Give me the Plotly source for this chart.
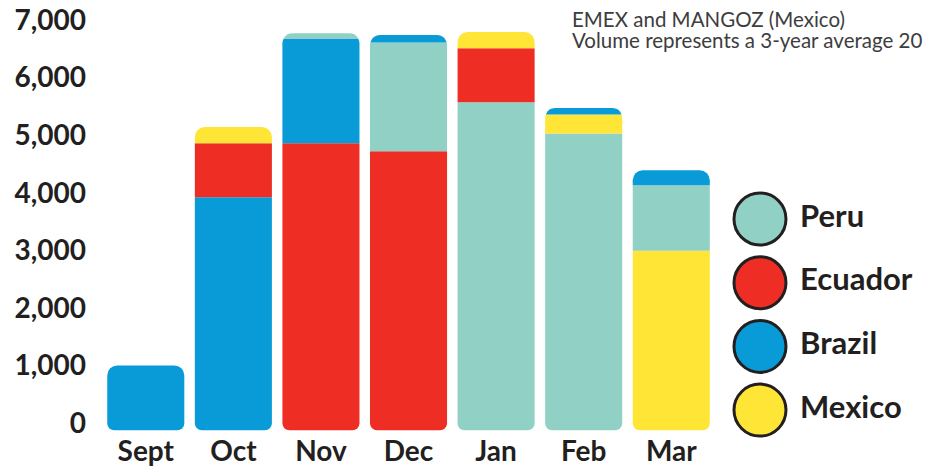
import plotly.graph_objects as go

months = ["Sept", "Oct", "Nov", "Dec", "Jan", "Feb", "Mar"]
countries = ["Peru", "Ecuador", "Brazil", "Mexico"]
peru = [0, 0, 90, 1890, 5570, 5030, 1140]
ecuador = [0, 940, 4860, 4720, 940, 0, 0]
brazil = [1000, 3920, 1820, 130, 0, 110, 260]
mexico = [0, 280, 0, 0, 280, 330, 2990]
y_ticks = [0, 1000, 2000, 3000, 4000, 5000, 6000, 7000]
note_lines = ["EMEX and MANGOZ (Mexico)", "Volume represents a 3-year average 20"]

colors = {"Peru": "#91d1c5", "Ecuador": "#ee2e24", "Brazil": "#089bd7", "Mexico": "#ffe535"}
TEXT = "#231f20"
FONT = "Lato"

series = {"Peru": peru, "Ecuador": ecuador, "Brazil": brazil, "Mexico": mexico}

# stacking: largest volume at bottom for each month
n_layers = 3
layer_vals = [[None] * len(months) for _ in range(n_layers)]
layer_cols = [["#ffffff"] * len(months) for _ in range(n_layers)]
layer_names = [[""] * len(months) for _ in range(n_layers)]
for i in range(len(months)):
    items = sorted([(series[c][i], c) for c in countries if series[c][i] > 0], reverse=True)
    for k, (v, c) in enumerate(items):
        layer_vals[k][i] = v
        layer_cols[k][i] = colors[c]
        layer_names[k][i] = c

fig = go.Figure()

# small rounded foot under each bar (style only)
FOOT = -125
fig.add_trace(go.Bar(
    x=months, y=[FOOT] * len(months), marker=dict(color=layer_cols[0], line=dict(width=0)),
    hoverinfo="skip", showlegend=False, xaxis="x", yaxis="y",
))
for k in range(n_layers):
    fig.add_trace(go.Bar(
        x=months, y=layer_vals[k], marker=dict(color=layer_cols[k], line=dict(width=0)),
        customdata=layer_names[k], hovertemplate="%{customdata}: %{y:,}<extra></extra>",
        showlegend=False, xaxis="x", yaxis="y",
    ))

# legend as big circles + labels
leg_y = list(range(len(countries)))
fig.add_trace(go.Scatter(
    x=[0] * len(countries), y=leg_y, mode="markers",
    marker=dict(size=52, color=[colors[c] for c in countries], line=dict(color=TEXT, width=3)),
    hoverinfo="skip", showlegend=False, xaxis="x2", yaxis="y2", cliponaxis=False,
))
LABEL_DX = 0.19
fig.add_trace(go.Scatter(
    x=[LABEL_DX] * len(countries), y=leg_y, mode="text",
    text=countries, textposition="middle right",
    textfont=dict(family=FONT, size=31, color=TEXT, weight="bold"),
    hoverinfo="skip", showlegend=False, xaxis="x2", yaxis="y2", cliponaxis=False,
))

PLOT_H = 432
k_px = 403 / 7000.0
ymax = 7000 + 20 / k_px
ymin = -(PLOT_H - 423) / k_px
LEG_TOP, LEG_STEP = 219, 63.7

fig.update_layout(
    width=926, height=466,
    margin=dict(l=102, r=0, t=0, b=466 - PLOT_H),
    paper_bgcolor="white", plot_bgcolor="white",
    barmode="relative", bargap=0.12,
    barcornerradius=10,
    showlegend=False,
    xaxis=dict(domain=[0, 0.744], range=[-0.5, 6.5], showgrid=False, zeroline=False,
               showline=False, ticks="", automargin=False,
               tickfont=dict(family=FONT, size=28, color=TEXT, weight="bold")),
    yaxis=dict(range=[ymin, ymax], tickvals=y_ticks, tickformat=",d", showgrid=False,
               zeroline=False, showline=False, ticks="", ticklabelstandoff=15, automargin=False,
               tickfont=dict(family=FONT, size=28, color=TEXT, weight="bold")),
    xaxis2=dict(domain=[0.744, 1], range=[-0.213, 0.787], visible=False, anchor="y2"),
    yaxis2=dict(domain=[0, 1], range=[(PLOT_H - LEG_TOP) / LEG_STEP, -LEG_TOP / LEG_STEP],
                visible=False, anchor="x2"),
)

for j, line in enumerate(note_lines):
    fig.add_annotation(
        text=line, xref="paper", yref="paper", x=(570 - 102) / 824, y=1 - (19 + 21 * j) / PLOT_H,
        xanchor="left", yanchor="middle", showarrow=False,
        font=dict(family=FONT, size=20.5, color="#3d3d3d"),
    )

fig.write_html("out.html", config={"displayModeBar": False},
               post_script="document.body.style.margin='0px';")
